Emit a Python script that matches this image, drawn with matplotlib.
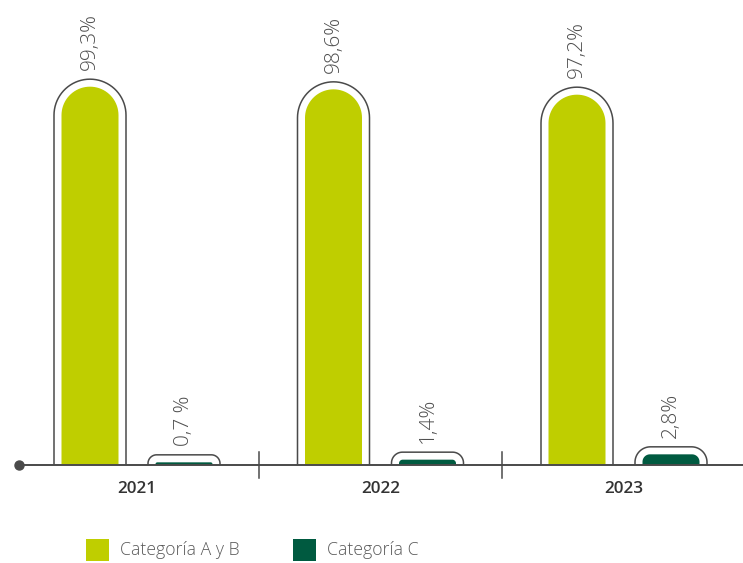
import numpy as np
import matplotlib
matplotlib.use("Agg")
import matplotlib.pyplot as plt
from matplotlib.path import Path
from matplotlib.patches import PathPatch, Rectangle

years = ["2021", "2022", "2023"]
cat_ab = [99.3, 98.6, 97.2]
cat_c = [0.7, 1.4, 2.8]
labels_ab = ["99,3%", "98,6%", "97,2%"]
labels_c = ["0,7 %", "1,4%", "2,8%"]
series_names = ["Categoría A y B", "Categoría C"]

LIGHT = "#bfce00"
DARK = "#005a40"
LINE = "#4a4a4a"
TXT = "#4f4f4f"

W, H = 743, 563
fig = plt.figure(figsize=(W / 100, H / 100), dpi=100)
ax = fig.add_axes([0, 0, 1, 1])

# pixel scales
px_per_x = 243.5
px_per_y = 3.81
x0_px, y0_px = 137.0, 465.0
ax.set_xlim(-x0_px / px_per_x, (W - x0_px) / px_per_x)
ax.set_ylim(-(H - y0_px) / px_per_y, y0_px / px_per_y)
ax.axis("off")

bar_w = 57 / px_per_x
offset = 47 / px_per_x
gap_px = 7.5


def rounded_top(xc, w, h, r_px, close=True):
    rx = r_px / px_per_x
    ry = r_px / px_per_y
    ry = min(ry, h)
    xl, xr = xc - w / 2, xc + w / 2
    t = np.linspace(np.pi, np.pi / 2, 20)
    left = np.column_stack([xl + rx + rx * np.cos(t), h - ry + ry * np.sin(t)])
    t2 = np.linspace(np.pi / 2, 0, 20)
    right = np.column_stack([xr - rx + rx * np.cos(t2), h - ry + ry * np.sin(t2)])
    pts = np.vstack([[xl, 0], left, right, [xr, 0]])
    if close:
        pts = np.vstack([pts, [xl, 0]])
    return Path(pts)


for i in range(len(years)):
    for vals, labs, col, sign in ((cat_ab, labels_ab, LIGHT, -1), (cat_c, labels_c, DARK, 1)):
        v = vals[i]
        xc = i + sign * offset
        h_px = v * px_per_y
        r_fill = min(28.5, max(h_px * 0.7, 1.5))
        ax.add_patch(PathPatch(rounded_top(xc, bar_w, v, r_fill), facecolor=col,
                               edgecolor="none", zorder=2))
        ow = bar_w + 2 * gap_px / px_per_x
        oh = v + gap_px / px_per_y
        r_out = min(36.0, (h_px + gap_px) * 0.85)
        p = rounded_top(xc, ow, oh, r_out, close=False)
        ax.plot(p.vertices[:, 0], p.vertices[:, 1], color=LINE, lw=1.1, zorder=3,
                solid_capstyle="butt")
        ax.text(xc, oh + 9 / px_per_y, labs[i], rotation=90, ha="center", va="bottom",
                fontsize=15, color=TXT, family="Open Sans", fontweight="light")
    ax.text(i, -24 / px_per_y, years[i], ha="center", va="center", fontsize=12.3,
            color="#333333", family="Open Sans", fontweight="semibold")

# axis line with dot and separators
ax.plot([-118 / px_per_x, (W - x0_px) / px_per_x], [0, 0], color=LINE, lw=1.4, zorder=4)
ax.plot([-118 / px_per_x], [0], "o", color=LINE, ms=6.5, zorder=5)
for s in (0.5, 1.5):
    ax.plot([s, s], [13 / px_per_y, -13 / px_per_y], color=LINE, lw=1.1, zorder=4)

# legend
for xpx, col, name in ((86, LIGHT, series_names[0]), (293, DARK, series_names[1])):
    fig.patches.append(Rectangle((xpx / W, 1 - 561 / H), 23 / W, 22 / H,
                                 transform=fig.transFigure, facecolor=col,
                                 edgecolor="none"))
    fig.text((xpx + 34) / W, 1 - 550 / H, name, ha="left", va="center",
             fontsize=12.7, color="#5a5a5a", family="Open Sans", fontweight="light")

fig.savefig("out.png", dpi=100)
